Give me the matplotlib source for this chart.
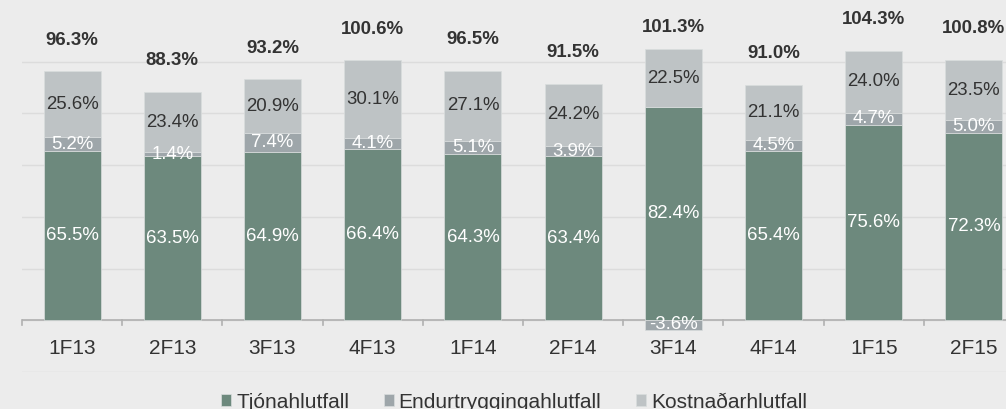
import matplotlib.pyplot as plt

plt.rcParams['font.family'] = ['Liberation Sans', 'DejaVu Sans']

categories = ['1F13', '2F13', '3F13', '4F13', '1F14', '2F14', '3F14', '4F14', '1F15', '2F15']
tjon = [65.5, 63.5, 64.9, 66.4, 64.3, 63.4, 82.4, 65.4, 75.6, 72.3]
endurtrygging = [5.2, 1.4, 7.4, 4.1, 5.1, 3.9, -3.6, 4.5, 4.7, 5.0]
kostnadur = [25.6, 23.4, 20.9, 30.1, 27.1, 24.2, 22.5, 21.1, 24.0, 23.5]
totals = [96.3, 88.3, 93.2, 100.6, 96.5, 91.5, 101.3, 91.0, 104.3, 100.8]

c_tjon = '#6d897d'
c_endur = '#9ea6aa'
c_kostn = '#bec3c5'
bg = '#ececec'

fig = plt.figure(figsize=(10.06, 4.09), dpi=100, facecolor=bg)
# chart is cut off on the right in the original, so the axes run past the figure edge
ax = fig.add_axes([22 / 1006, 37 / 409, 1002 / 1006, 362 / 409], facecolor=bg)

x = list(range(len(categories)))
w = 0.57

# endurtrygging sits on top of tjon, or below zero when negative
endur_bottom = [t if e >= 0 else 0 for t, e in zip(tjon, endurtrygging)]
kostn_bottom = [t + max(e, 0) for t, e in zip(tjon, endurtrygging)]

ax.bar(x, tjon, w, color=c_tjon, edgecolor='#d9dddd', linewidth=0.5, label='Tjónahlutfall', zorder=3)
ax.bar(x, endurtrygging, w, bottom=endur_bottom, color=c_endur, edgecolor='#d9dddd', linewidth=0.5,
       label='Endurtryggingahlutfall', zorder=3)
ax.bar(x, kostnadur, w, bottom=kostn_bottom, color=c_kostn, edgecolor='#d9dddd', linewidth=0.5,
       label='Kostnaðarhlutfall', zorder=3)

for i in x:
    ax.text(i, tjon[i] / 2, f'{tjon[i]:.1f}%', ha='center', va='center', color='white', fontsize=13.4, zorder=4)
    e_mid = endur_bottom[i] + endurtrygging[i] / 2
    ax.text(i, e_mid, f'{endurtrygging[i]:.1f}%', ha='center', va='center', color='white', fontsize=13.4, zorder=4)
    ax.text(i, kostn_bottom[i] + kostnadur[i] / 2, f'{kostnadur[i]:.1f}%', ha='center', va='center',
            color='#333333', fontsize=13.4, zorder=4)
    ax.annotate(f'{totals[i]:.1f}%', (i, totals[i]), xytext=(0, 31), textcoords='offset pixels',
                ha='center', va='center', fontsize=13.4, fontweight='bold', color='#333333', zorder=4)
    # category labels sit between the zero line and the -20 gridline
    ax.text(i, -10.8, categories[i], ha='center', va='center', fontsize=15, color='#333333')

ax.set_xlim(-0.5, 9.5)
ax.set_ylim(-20, 120)
ax.set_yticks([-20, 0, 20, 40, 60, 80, 100])
ax.set_yticklabels([])
ax.tick_params(axis='y', length=0)
ax.grid(axis='y', color='#dcdcdc', linewidth=1, zorder=0)
ax.set_xticks([])

for s in ax.spines.values():
    s.set_visible(False)
ax.axhline(0, color='#b0b0b0', linewidth=1.2, zorder=2)

# tick marks between categories on the zero line
for b in [i - 0.5 for i in x] + [9.5]:
    ax.plot([b, b], [0, -2.0], color='#b0b0b0', linewidth=1.2, zorder=2, clip_on=False)

fig.legend(loc='center', bbox_to_anchor=(514 / 1006, 7 / 409), ncol=3, frameon=False, fontsize=15,
           handlelength=0.48, handleheight=0.48, handletextpad=0.25, columnspacing=1.65,
           labelcolor='#333333', borderpad=0)

fig.savefig('out.png', dpi=100, facecolor=bg)
